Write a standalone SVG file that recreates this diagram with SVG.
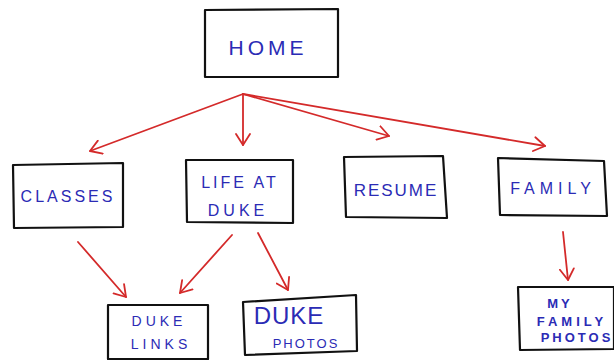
<svg xmlns="http://www.w3.org/2000/svg" width="614" height="360" viewBox="0 0 614 360">
<style>
.box{fill:#fff;stroke:#111;stroke-width:2.2;stroke-linejoin:round}
.t{font-family:"Liberation Sans",Arial,sans-serif;fill:#2b2bb5;text-anchor:middle}
.c{fill:none;stroke:#d42a2a;stroke-width:1.8;stroke-linecap:round;stroke-linejoin:round}
</style>
<defs>
<marker id="ah" viewBox="-12 -8 14 16" refX="0" refY="0" markerWidth="14" markerHeight="16" markerUnits="userSpaceOnUse" orient="auto">
<path d="M-11,-7 L0,0 L-11,7" fill="none" stroke="#d42a2a" stroke-width="1.8" stroke-linecap="round" stroke-linejoin="round"/>
</marker>
</defs>
<rect width="614" height="360" fill="#fff"/>
<g id="connectors">
<path class="c" d="M243,94 L90,151" marker-end="url(#ah)"/>
<path class="c" d="M243,94 L243,145" marker-end="url(#ah)"/>
<path class="c" d="M243,94 L389,136" marker-end="url(#ah)"/>
<path class="c" d="M243,94 L545,146" marker-end="url(#ah)"/>
<path class="c" d="M78,242 L126,297" marker-end="url(#ah)"/>
<path class="c" d="M232,235 L180,293" marker-end="url(#ah)"/>
<path class="c" d="M258,233 L288,290" marker-end="url(#ah)"/>
<path class="c" d="M563,232 L568,280" marker-end="url(#ah)"/>
</g>
<g id="home">
<polygon class="box" points="205,10 338,9 338,77 205,77"/>
<text class="t" x="268" y="55" font-size="21" letter-spacing="4">HOME</text>
</g>
<g id="classes">
<polygon class="box" points="13,165 123,163 123,227 14,228"/>
<text class="t" x="68" y="202" font-size="16" letter-spacing="3">CLASSES</text>
</g>
<g id="life-at-duke">
<polygon class="box" points="186,160 293,160 293,223 187,222"/>
<text class="t" x="240" y="188" font-size="16" letter-spacing="3">LIFE AT</text>
<text class="t" x="238" y="216" font-size="16" letter-spacing="4">DUKE</text>
</g>
<g id="resume">
<polygon class="box" points="344,157 443,156 447,218 346,217"/>
<text class="t" x="396" y="196" font-size="17" letter-spacing="2">RESUME</text>
</g>
<g id="family">
<polygon class="box" points="498,158 604,161 607,216 500,215"/>
<text class="t" x="553" y="194" font-size="16" letter-spacing="5">FAMILY</text>
</g>
<g id="duke-links">
<polygon class="box" points="108,305 208,305 208,359 108,359"/>
<text class="t" x="159" y="326" font-size="14" letter-spacing="4">DUKE</text>
<text class="t" x="161" y="349" font-size="14" letter-spacing="4">LINKS</text>
</g>
<g id="duke-photos">
<polygon class="box" points="243,302 356,295 357,351 245,355"/>
<text class="t" x="289" y="324" font-size="24" letter-spacing="1">DUKE</text>
<text class="t" x="306" y="348" font-size="13" letter-spacing="2">PHOTOS</text>
</g>
<g id="my-family-photos">
<polygon class="box" points="518,287 614,287 614,349 520,350"/>
<text class="t" x="560" y="308" font-size="13" font-weight="bold" letter-spacing="3">MY</text>
<text class="t" x="572" y="326" font-size="13" font-weight="bold" letter-spacing="4">FAMILY</text>
<text class="t" x="577" y="342" font-size="13" font-weight="bold" letter-spacing="3">PHOTOS</text>
</g>
</svg>
